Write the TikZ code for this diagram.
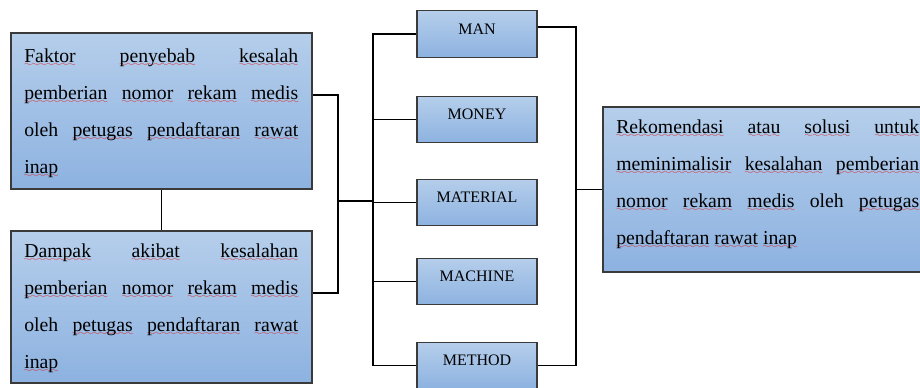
\documentclass[tikz,border=0pt]{standalone}
\usepackage{fontspec}
\setmainfont{Liberation Serif}
\definecolor{btop}{HTML}{B5CEEB}
\definecolor{bbot}{HTML}{8DB2E0}
\definecolor{bordergray}{HTML}{3A3A3A}
\definecolor{wavered}{HTML}{E02222}
\font\mywavefont=lasy6
\newsavebox\wvbox
\newcommand\wv[1]{\sbox\wvbox{#1}\rlap{\lower3.2pt\hbox to \wd\wvbox{\color{wavered}\xleaders\hbox{\mywavefont\char58}\hfil}}\usebox\wvbox}
\tikzset{
  bigbox/.style={draw=bordergray, line width=1.1pt, top color=btop, bottom color=bbot, inner sep=0pt},
  smallbox/.style={draw=bordergray, line width=0.9pt, top color=btop, bottom color=bbot, inner sep=0pt,
    minimum width=90pt, minimum height=35pt, text height=6pt, text depth=6pt, font=\fontsize{12}{14}\selectfont},
  bodytext/.style={anchor=base west, inner sep=0pt, align=justify, font=\fontsize{14.8}{27.75}\selectfont},
  conn/.style={line width=1.1pt, black},
}
\begin{document}
\begin{tikzpicture}[x=0.75pt, y=-0.75pt]
\useasboundingbox (0,0) rectangle (920,387);
% big boxes
\node[bigbox, minimum width=225.75pt, minimum height=117pt] (b1) at (161.5,111) {};
\node[bigbox, minimum width=225.75pt, minimum height=114pt] (b2) at (161.5,307) {};
\node[bigbox, minimum width=249pt, minimum height=123.75pt] (rek) at (769,189.5) {};
% texts
\node[bodytext, text width=205.5pt] (t1) at (24,62)
 {\wv{Faktor} \wv{penyebab} \wv{kesalah}\linebreak
  \wv{pemberian} \wv{nomor} \wv{rekam} \wv{medis}\linebreak
  oleh \wv{petugas} \wv{pendaftaran} \wv{rawat}\linebreak
  \wv{inap}};
\node[bodytext, text width=205.5pt] (t2) at (24,257)
 {\wv{Dampak} \wv{akibat} \wv{kesalahan}\linebreak
  \wv{pemberian} \wv{nomor} \wv{rekam} \wv{medis}\linebreak
  oleh \wv{petugas} \wv{pendaftaran} \wv{rawat}\linebreak
  \wv{inap}};
\node[bodytext, text width=227.25pt] (t3) at (616,133)
 {\wv{Rekomendasi} \wv{atau} \wv{solusi} \wv{untuk}\linebreak
  \wv{meminimalisir} \wv{kesalahan} \wv{pemberian}\linebreak
  \wv{nomor} \wv{rekam} \wv{medis} oleh \wv{petugas}\linebreak
  \wv{pendaftaran} \wv{rawat} \wv{inap}};
% small boxes
\node[smallbox] (man) at (477,34) {MAN};
\node[smallbox] (money) at (477,119.5) {MONEY};
\node[smallbox] (material) at (477,202.5) {MATERIAL};
\node[smallbox] (machine) at (477,281.5) {MACHINE};
\node[smallbox] (method) at (477,365.5) {METHOD};
% junction coordinates
\coordinate (j1) at (338,95);
\coordinate (j3) at (338,293);
\coordinate (j2) at (338,201);
\coordinate (busx) at (373,0);
\coordinate (rbus) at (576,0);
\coordinate (manr) at (537,27);
% left connections
\draw[conn] (b1.south) -- (b2.north);
\draw[conn] (b1.east |- j1) -- (j1) -- (j3) -- (b2.east |- j3);
\draw[conn] (j2) -- (j2 -| busx);
\draw[conn] (man.west) -- (man.west -| busx) -- (method.west -| busx) -- (method.west);
\draw[conn] (money.west) -- (money.west -| busx);
\draw[conn] (material.west) -- (material.west -| busx);
\draw[conn] (machine.west) -- (machine.west -| busx);
% right connections
\draw[conn] (man.east |- manr) -- (manr -| rbus) -- (method.east -| rbus) -- (method.east);
\draw[conn] (rek.west) -- (rek.west -| rbus);
\end{tikzpicture}
\end{document}
